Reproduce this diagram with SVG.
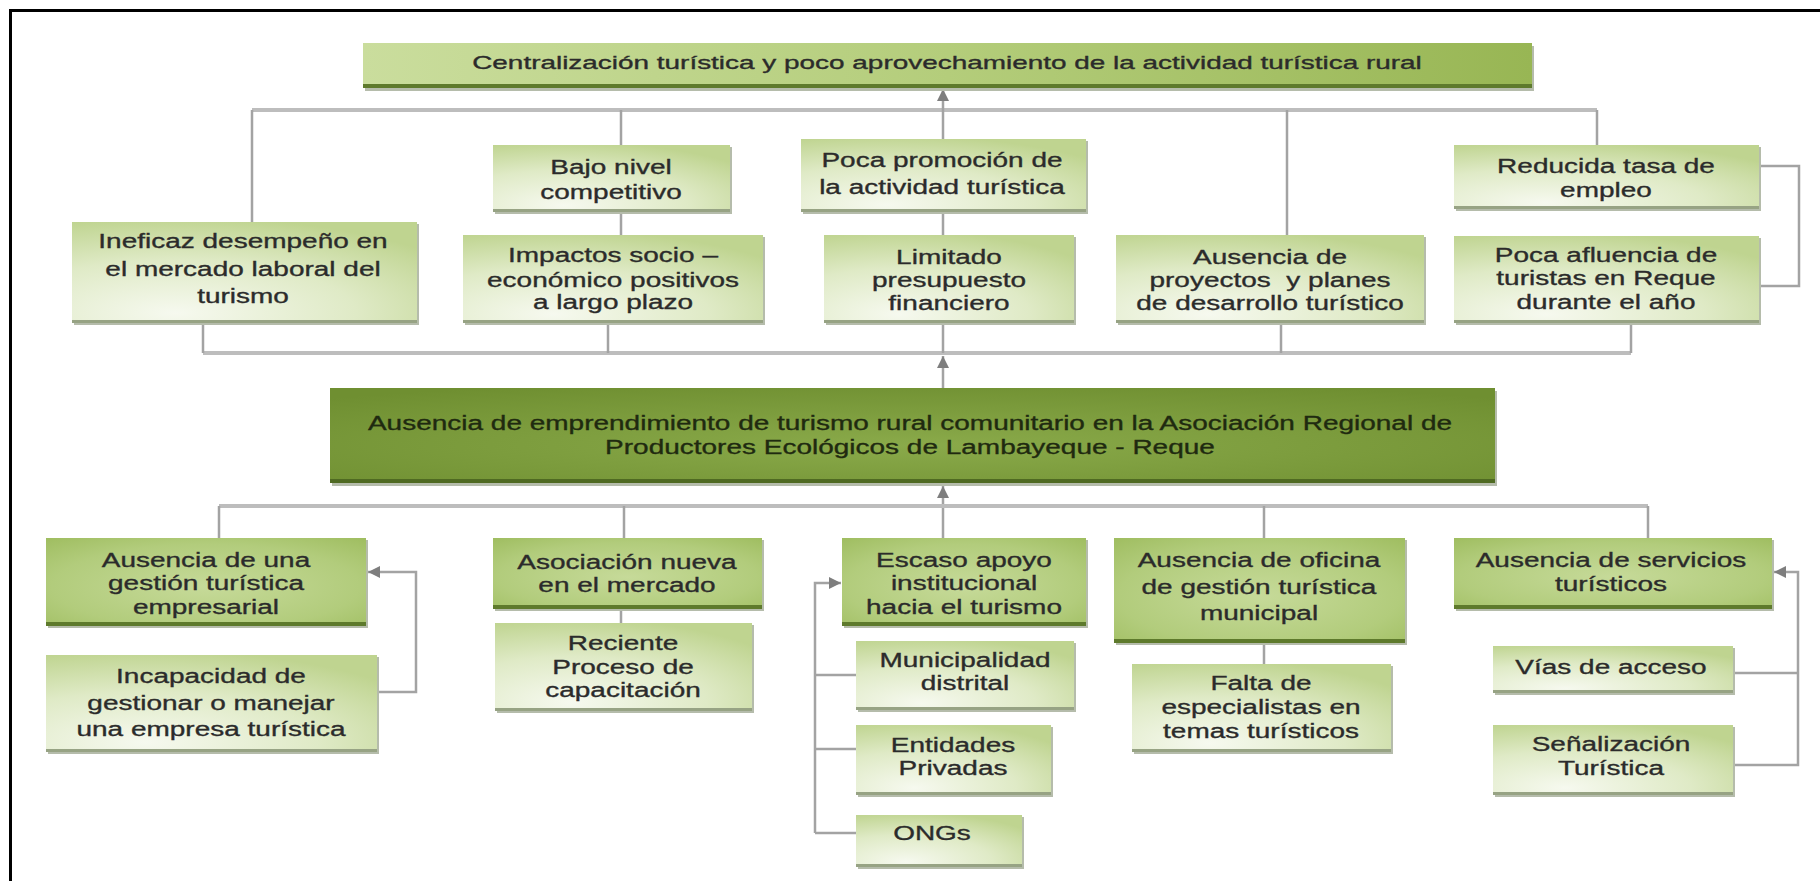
<svg xmlns="http://www.w3.org/2000/svg" width="1820" height="881" viewBox="0 0 1820 881">
<style>
  .t{font-family:"Liberation Sans",Arial,sans-serif;font-size:21px;fill:#2b2b2b;stroke:#2b2b2b;stroke-width:0.35px;text-anchor:middle;white-space:pre}
  .tt{font-size:19px}
  .tc{fill:#1f2a10;stroke:#1f2a10}
  .ln{fill:none;stroke:#a3a3a3;stroke-width:2.5}
  .lnh{fill:none;stroke:#bdbdbd;stroke-width:4}
  .sh{fill:#b5bcab}
  .bl{fill:url(#gLight)}
  .bm{fill:url(#gMid)}
  .sl{fill:#97a384}
  .sm{fill:#5e7a2c}
  .frame{stroke:#000;stroke-width:3;fill:none}
</style>
<defs>
  <radialGradient id="gLight" cx="0.3" cy="0.9" r="0.95">
    <stop offset="0" stop-color="#f6f9ef"/>
    <stop offset="0.55" stop-color="#dfeac6"/>
    <stop offset="1" stop-color="#bfd490"/>
  </radialGradient>
  <radialGradient id="gMid" cx="0.5" cy="0.55" r="0.8">
    <stop offset="0" stop-color="#c6da99"/>
    <stop offset="0.6" stop-color="#b2cc7c"/>
    <stop offset="1" stop-color="#9bba5a"/>
  </radialGradient>
  <linearGradient id="gTitle" x1="0" y1="0" x2="1" y2="0">
    <stop offset="0" stop-color="#cadd9d"/>
    <stop offset="0.5" stop-color="#b4cd7b"/>
    <stop offset="1" stop-color="#98b654"/>
  </linearGradient>
  <radialGradient id="gCenter" cx="0.5" cy="0.6" r="0.7">
    <stop offset="0" stop-color="#8aaa4a"/>
    <stop offset="1" stop-color="#6f8f31"/>
  </radialGradient>
  <marker id="arr" markerUnits="userSpaceOnUse" markerWidth="12" markerHeight="12" viewBox="0 0 10 10" refX="10" refY="5" orient="auto">
    <path d="M0,0 L10,5 L0,10 z" fill="#7e7e7e"/>
  </marker>
</defs>
<rect width="1820" height="881" fill="#ffffff"/>
<path class="frame" d="M10.5,881 V10.5 H1820"/>

<g id="connectors">
  <path class="lnh" d="M252,110 H1597"/>
  <path class="ln" d="M252,110 V222"/>
  <path class="ln" d="M621,110 V145 M621,212 V235"/>
  <path class="ln" d="M943,139 V89" marker-end="url(#arr)"/>
  <path class="ln" d="M943,212 V235"/>
  <path class="ln" d="M1287,110 V235"/>
  <path class="ln" d="M1597,110 V145"/>
  <path class="ln" d="M1759,166 H1799 V286 H1759"/>
  <path class="lnh" d="M203,353 H1631"/>
  <path class="ln" d="M203,323 V353 M608,323 V353 M943,323 V353 M1281,323 V353 M1631,323 V353"/>
  <path class="ln" d="M943,388 V356" marker-end="url(#arr)"/>
  <path class="ln" d="M943,538 V486" marker-end="url(#arr)"/>
  <path class="lnh" d="M219,506 H1648"/>
  <path class="ln" d="M219,506 V538 M624,506 V538 M1264,506 V538 M1648,506 V538"/>
  <path class="ln" d="M377,692 H416 V572 H368" marker-end="url(#arr)"/>
  <path class="ln" d="M621,609 V623"/>
  <path class="ln" d="M815,833 V583 H841" marker-end="url(#arr)"/>
  <path class="ln" d="M815,675 H856 M815,749 H856 M815,833 H856"/>
  <path class="ln" d="M1264,643 V664"/>
  <path class="ln" d="M1733,673 H1798 M1733,765 H1798 V572 H1774" marker-end="url(#arr)"/>
</g>

<g id="n-title">
  <rect x="365" y="46" width="1169" height="45" class="sh"/>
  <rect x="363" y="43" width="1169" height="45" fill="url(#gTitle)"/>
  <rect x="363" y="84" width="1169" height="4" class="sm"/>
  <text class="t tt" transform="translate(947 0) scale(1.47 1)"><tspan x="0" y="69">Centralización turística y poco aprovechamiento de la actividad turística rural</tspan></text>
</g>

<g id="n-bajo">
  <rect x="495" y="147" width="237" height="67" class="sh"/>
  <rect x="493" y="145" width="237" height="67" class="bl"/>
  <rect x="493" y="209" width="237" height="3" class="sl"/>
  <text class="t" transform="translate(611 0) scale(1.333 1)"><tspan x="0" y="174">Bajo nivel</tspan><tspan x="0" y="199">competitivo</tspan></text>
</g>

<g id="n-promocion">
  <rect x="803" y="141" width="285" height="73" class="sh"/>
  <rect x="801" y="139" width="285" height="73" class="bl"/>
  <rect x="801" y="209" width="285" height="3" class="sl"/>
  <text class="t" transform="translate(942 0) scale(1.333 1)"><tspan x="0" y="167">Poca promoción de</tspan><tspan x="0" y="194">la actividad turística</tspan></text>
</g>

<g id="n-ineficaz">
  <rect x="74" y="224" width="345" height="101" class="sh"/>
  <rect x="72" y="222" width="345" height="101" class="bl"/>
  <rect x="72" y="320" width="345" height="3" class="sl"/>
  <text class="t" transform="translate(243 0) scale(1.333 1)"><tspan x="0" y="248">Ineficaz desempeño en</tspan><tspan x="0" y="276">el mercado laboral del</tspan><tspan x="0" y="303">turismo</tspan></text>
</g>

<g id="n-impactos">
  <rect x="465" y="237" width="300" height="88" class="sh"/>
  <rect x="463" y="235" width="300" height="88" class="bl"/>
  <rect x="463" y="320" width="300" height="3" class="sl"/>
  <text class="t" transform="translate(613 0) scale(1.333 1)"><tspan x="0" y="262">Impactos socio –</tspan><tspan x="0" y="287">económico positivos</tspan><tspan x="0" y="309">a largo plazo</tspan></text>
</g>

<g id="n-limitado">
  <rect x="826" y="237" width="250" height="88" class="sh"/>
  <rect x="824" y="235" width="250" height="88" class="bl"/>
  <rect x="824" y="320" width="250" height="3" class="sl"/>
  <text class="t" transform="translate(949 0) scale(1.333 1)"><tspan x="0" y="264">Limitado</tspan><tspan x="0" y="287">presupuesto</tspan><tspan x="0" y="310">financiero</tspan></text>
</g>

<g id="n-proyectos">
  <rect x="1118" y="237" width="308" height="88" class="sh"/>
  <rect x="1116" y="235" width="308" height="88" class="bl"/>
  <rect x="1116" y="320" width="308" height="3" class="sl"/>
  <text class="t" transform="translate(1270 0) scale(1.333 1)"><tspan x="0" y="264">Ausencia de</tspan><tspan x="0" y="287">proyectos  y planes</tspan><tspan x="0" y="310">de desarrollo turístico</tspan></text>
</g>

<g id="n-reducida">
  <rect x="1456" y="147" width="305" height="64" class="sh"/>
  <rect x="1454" y="145" width="305" height="64" class="bl"/>
  <rect x="1454" y="206" width="305" height="3" class="sl"/>
  <text class="t" transform="translate(1606 0) scale(1.333 1)"><tspan x="0" y="173">Reducida tasa de</tspan><tspan x="0" y="197">empleo</tspan></text>
</g>

<g id="n-afluencia">
  <rect x="1456" y="238" width="305" height="87" class="sh"/>
  <rect x="1454" y="236" width="305" height="87" class="bl"/>
  <rect x="1454" y="320" width="305" height="3" class="sl"/>
  <text class="t" transform="translate(1606 0) scale(1.333 1)"><tspan x="0" y="262">Poca afluencia de</tspan><tspan x="0" y="285">turistas en Reque</tspan><tspan x="0" y="309">durante el año</tspan></text>
</g>

<g id="n-center">
  <rect x="332" y="391" width="1165" height="95" class="sh"/>
  <rect x="330" y="388" width="1165" height="95" fill="url(#gCenter)"/>
  <rect x="330" y="479" width="1165" height="4" fill="#4f6a22"/>
  <text class="t tc" transform="translate(910 0) scale(1.333 1)"><tspan x="0" y="430">Ausencia de emprendimiento de turismo rural comunitario en la Asociación Regional de</tspan><tspan x="0" y="454">Productores Ecológicos de Lambayeque - Reque</tspan></text>
</g>

<g id="n-gestion">
  <rect x="48" y="540" width="320" height="88" class="sh"/>
  <rect x="46" y="538" width="320" height="88" class="bm"/>
  <rect x="46" y="622" width="320" height="4" class="sm"/>
  <text class="t" transform="translate(206 0) scale(1.333 1)"><tspan x="0" y="567">Ausencia de una</tspan><tspan x="0" y="590">gestión turística</tspan><tspan x="0" y="614">empresarial</tspan></text>
</g>

<g id="n-incapacidad">
  <rect x="48" y="657" width="331" height="97" class="sh"/>
  <rect x="46" y="655" width="331" height="97" class="bl"/>
  <rect x="46" y="749" width="331" height="3" class="sl"/>
  <text class="t" transform="translate(211 0) scale(1.333 1)"><tspan x="0" y="683">Incapacidad de</tspan><tspan x="0" y="710">gestionar o manejar</tspan><tspan x="0" y="736">una empresa turística</tspan></text>
</g>

<g id="n-asociacion">
  <rect x="495" y="540" width="269" height="71" class="sh"/>
  <rect x="493" y="538" width="269" height="71" class="bm"/>
  <rect x="493" y="605" width="269" height="4" class="sm"/>
  <text class="t" transform="translate(627 0) scale(1.333 1)"><tspan x="0" y="569">Asociación nueva</tspan><tspan x="0" y="592">en el mercado</tspan></text>
</g>

<g id="n-reciente">
  <rect x="497" y="625" width="257" height="88" class="sh"/>
  <rect x="495" y="623" width="257" height="88" class="bl"/>
  <rect x="495" y="708" width="257" height="3" class="sl"/>
  <text class="t" transform="translate(623 0) scale(1.333 1)"><tspan x="0" y="650">Reciente</tspan><tspan x="0" y="674">Proceso de</tspan><tspan x="0" y="697">capacitación</tspan></text>
</g>

<g id="n-escaso">
  <rect x="844" y="540" width="244" height="88" class="sh"/>
  <rect x="842" y="538" width="244" height="88" class="bm"/>
  <rect x="842" y="622" width="244" height="4" class="sm"/>
  <text class="t" transform="translate(964 0) scale(1.333 1)"><tspan x="0" y="567">Escaso apoyo</tspan><tspan x="0" y="590">institucional</tspan><tspan x="0" y="614">hacia el turismo</tspan></text>
</g>

<g id="n-municipalidad">
  <rect x="858" y="643" width="218" height="69" class="sh"/>
  <rect x="856" y="641" width="218" height="69" class="bl"/>
  <rect x="856" y="707" width="218" height="3" class="sl"/>
  <text class="t" transform="translate(965 0) scale(1.333 1)"><tspan x="0" y="667">Municipalidad</tspan><tspan x="0" y="690">distrital</tspan></text>
</g>

<g id="n-entidades">
  <rect x="858" y="727" width="195" height="70" class="sh"/>
  <rect x="856" y="725" width="195" height="70" class="bl"/>
  <rect x="856" y="792" width="195" height="3" class="sl"/>
  <text class="t" transform="translate(953 0) scale(1.333 1)"><tspan x="0" y="752">Entidades</tspan><tspan x="0" y="775">Privadas</tspan></text>
</g>

<g id="n-ongs">
  <rect x="858" y="817" width="166" height="52" class="sh"/>
  <rect x="856" y="815" width="166" height="52" class="bl"/>
  <rect x="856" y="864" width="166" height="3" class="sl"/>
  <text class="t" transform="translate(932 0) scale(1.333 1)"><tspan x="0" y="840">ONGs</tspan></text>
</g>

<g id="n-oficina">
  <rect x="1116" y="540" width="291" height="105" class="sh"/>
  <rect x="1114" y="538" width="291" height="105" class="bm"/>
  <rect x="1114" y="639" width="291" height="4" class="sm"/>
  <text class="t" transform="translate(1259 0) scale(1.333 1)"><tspan x="0" y="567">Ausencia de oficina</tspan><tspan x="0" y="594">de gestión turística</tspan><tspan x="0" y="620">municipal</tspan></text>
</g>

<g id="n-falta">
  <rect x="1134" y="666" width="259" height="88" class="sh"/>
  <rect x="1132" y="664" width="259" height="88" class="bl"/>
  <rect x="1132" y="749" width="259" height="3" class="sl"/>
  <text class="t" transform="translate(1261 0) scale(1.333 1)"><tspan x="0" y="690">Falta de</tspan><tspan x="0" y="714">especialistas en</tspan><tspan x="0" y="738">temas turísticos</tspan></text>
</g>

<g id="n-servicios">
  <rect x="1456" y="540" width="318" height="71" class="sh"/>
  <rect x="1454" y="538" width="318" height="71" class="bm"/>
  <rect x="1454" y="605" width="318" height="4" class="sm"/>
  <text class="t" transform="translate(1611 0) scale(1.333 1)"><tspan x="0" y="567">Ausencia de servicios</tspan><tspan x="0" y="591">turísticos</tspan></text>
</g>

<g id="n-vias">
  <rect x="1495" y="648" width="240" height="47" class="sh"/>
  <rect x="1493" y="646" width="240" height="47" class="bl"/>
  <rect x="1493" y="690" width="240" height="3" class="sl"/>
  <text class="t" transform="translate(1611 0) scale(1.333 1)"><tspan x="0" y="674">Vías de acceso</tspan></text>
</g>

<g id="n-senalizacion">
  <rect x="1495" y="727" width="240" height="70" class="sh"/>
  <rect x="1493" y="725" width="240" height="70" class="bl"/>
  <rect x="1493" y="792" width="240" height="3" class="sl"/>
  <text class="t" transform="translate(1611 0) scale(1.333 1)"><tspan x="0" y="751">Señalización</tspan><tspan x="0" y="775">Turística</tspan></text>
</g>
</svg>
